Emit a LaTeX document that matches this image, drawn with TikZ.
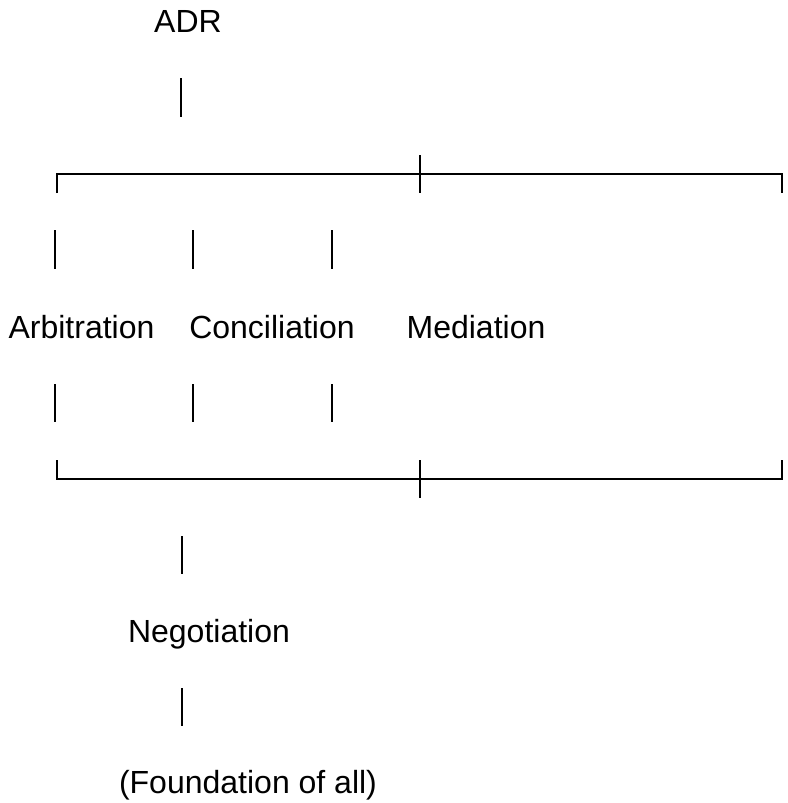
\documentclass[tikz,border=0pt]{standalone}
\usepackage{fontspec}
\setmainfont{Liberation Sans}
\begin{document}
\begin{tikzpicture}[x=0.75pt,y=-0.75pt,
  lbl/.style={anchor=base, inner sep=0pt, font=\fontsize{24pt}{28pt}\selectfont},
  bar/.style={line width=2pt},
  brace/.style={line width=1.8pt}]
\useasboundingbox (0,0) rectangle (788,803);

\node[lbl] (adr) at (188,32) {ADR};
\draw[bar] (181,78) -- (181,117);

% upper bracket
\draw[brace] (57,193) -- (57,174) -- (782,174) -- (782,193);
\draw[brace] (420,155) -- (420,193);

\draw[bar] (55,230) -- (55,269);
\draw[bar] (193,230) -- (193,269);
\draw[bar] (332,230) -- (332,269);

\node[lbl] (arb) at (81.5,338) {Arbitration};
\node[lbl] (con) at (272,338) {Conciliation};
\node[lbl] (med) at (476,338) {Mediation};

\draw[bar] (55,384) -- (55,422);
\draw[bar] (193,384) -- (193,422);
\draw[bar] (332,384) -- (332,422);

% lower bracket
\draw[brace] (57,460) -- (57,479) -- (782,479) -- (782,460);
\draw[brace] (420,460) -- (420,498);

\draw[bar] (182,536) -- (182,574);
\node[lbl] (neg) at (209,642) {Negotiation};
\draw[bar] (182,688) -- (182,726);
\node[lbl] (fnd) at (248,793) {(Foundation of all)};
\end{tikzpicture}
\end{document}
